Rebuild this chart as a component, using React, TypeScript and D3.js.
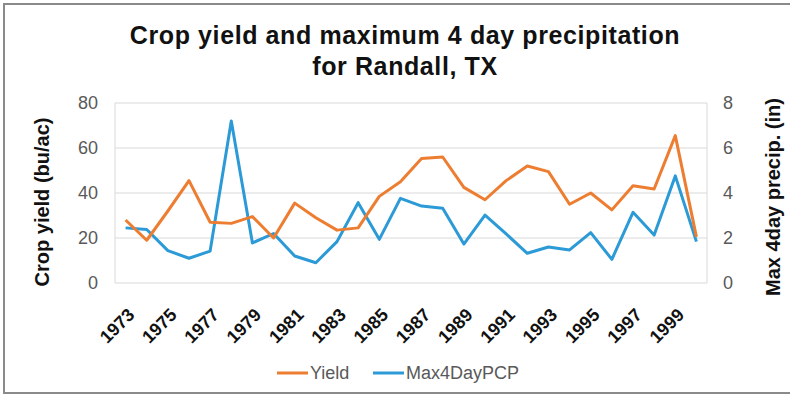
import React, { useRef, useEffect } from "react";
import * as d3 from "d3";

const years = [
  1973, 1974, 1975, 1976, 1977, 1978, 1979, 1980, 1981, 1982, 1983, 1984, 1985, 1986,
  1987, 1988, 1989, 1990, 1991, 1992, 1993, 1994, 1995, 1996, 1997, 1998, 1999, 2000,
];
const yieldValues = [
  28, 19, 32, 45.5, 27, 26.5, 29.5, 20, 35.5, 29, 23.5, 24.5, 38.5, 45,
  55.3, 56, 42.5, 37, 45.5, 52, 49.5, 35, 40, 32.5, 43.2, 41.8, 65.5, 20.5,
];
const pcpValues = [
  2.45, 2.38, 1.44, 1.1, 1.42, 7.2, 1.78, 2.2, 1.2, 0.9, 1.84, 3.57, 1.94, 3.76,
  3.42, 3.32, 1.73, 3.02, 2.18, 1.32, 1.6, 1.47, 2.24, 1.05, 3.14, 2.13, 4.76, 1.84,
];
const leftTicks = [0, 20, 40, 60, 80];
const rightTicks = [0, 2, 4, 6, 8];
const tickYears = [1973, 1975, 1977, 1979, 1981, 1983, 1985, 1987, 1989, 1991, 1993, 1995, 1997, 1999];
const seriesNames = ["Yield", "Max4DayPCP"];
const seriesColors = ["#ed7d31", "#2b9ad6"];

const W = 790;
const H = 396;
const FONT = "'Liberation Sans', Arial, sans-serif";

export default function App() {
  const svgRef = useRef<SVGSVGElement>(null);

  useEffect(() => {
    if (!svgRef.current) return;
    const svg = d3.select(svgRef.current);
    svg.selectAll("*").remove();

    const plot = { left: 115, right: 707, top: 103, bottom: 283 };

    const x = d3
      .scaleBand<number>()
      .domain(years)
      .range([plot.left, plot.right])
      .padding(0);
    const yL = d3.scaleLinear().domain([0, 80]).range([plot.bottom, plot.top]);
    const yR = d3.scaleLinear().domain([0, 8]).range([plot.bottom, plot.top]);
    const cx = (yr: number) => (x(yr) ?? 0) + x.bandwidth() / 2;

    // background + outer frame
    svg.append("rect").attr("width", W).attr("height", H).attr("fill", "#fff");
    svg
      .append("rect")
      .attr("x", 4)
      .attr("y", 4)
      .attr("width", W + 10)
      .attr("height", 389)
      .attr("fill", "none")
      .attr("stroke", "#8a8a8a")
      .attr("stroke-width", 2);

    // title
    const title = svg
      .append("text")
      .attr("text-anchor", "middle")
      .attr("font-family", FONT)
      .attr("font-weight", "bold")
      .attr("font-size", 25)
      .attr("letter-spacing", 0.6)
      .attr("fill", "#111");
    title.append("tspan").attr("x", 405).attr("y", 44).text("Crop yield and maximum 4 day precipitation");
    title.append("tspan").attr("x", 405).attr("y", 75).text("for Randall, TX");

    // gridlines
    svg
      .append("g")
      .selectAll("line")
      .data(leftTicks)
      .join("line")
      .attr("x1", plot.left)
      .attr("x2", plot.right)
      .attr("y1", (d) => yL(d))
      .attr("y2", (d) => yL(d))
      .attr("stroke", "#d9d9d9")
      .attr("stroke-width", 1);

    // plot borders (left & right)
    svg
      .append("g")
      .selectAll("line")
      .data([plot.left, plot.right])
      .join("line")
      .attr("x1", (d) => d)
      .attr("x2", (d) => d)
      .attr("y1", plot.top)
      .attr("y2", plot.bottom)
      .attr("stroke", "#d9d9d9");

    // left tick labels
    svg
      .append("g")
      .selectAll("text")
      .data(leftTicks)
      .join("text")
      .attr("x", 98)
      .attr("y", (d) => yL(d))
      .attr("dy", "0.35em")
      .attr("text-anchor", "end")
      .attr("font-family", FONT)
      .attr("font-size", 18)
      .attr("fill", "#595959")
      .text((d) => d);

    // right tick labels
    svg
      .append("g")
      .selectAll("text")
      .data(rightTicks)
      .join("text")
      .attr("x", 723)
      .attr("y", (d) => yR(d))
      .attr("dy", "0.35em")
      .attr("text-anchor", "start")
      .attr("font-family", FONT)
      .attr("font-size", 18)
      .attr("fill", "#595959")
      .text((d) => d);

    // x tick labels
    svg
      .append("g")
      .selectAll("text")
      .data(tickYears)
      .join("text")
      .attr("transform", (d) => `translate(${cx(d) + 10},${316}) rotate(-45)`)
      .attr("text-anchor", "end")
      .attr("font-family", FONT)
      .attr("font-weight", "bold")
      .attr("font-size", 18)
      .attr("fill", "#111")
      .text((d) => d);

    // axis titles
    svg
      .append("text")
      .attr("transform", `translate(49,${(plot.top + plot.bottom) / 2 + 9}) rotate(-90)`)
      .attr("text-anchor", "middle")
      .attr("font-family", FONT)
      .attr("font-weight", "bold")
      .attr("font-size", 20)
      .attr("fill", "#111")
      .text("Crop yield (bu/ac)");
    svg
      .append("text")
      .attr("transform", `translate(780,${(plot.top + plot.bottom) / 2 + 4}) rotate(-90)`)
      .attr("text-anchor", "middle")
      .attr("font-family", FONT)
      .attr("font-weight", "bold")
      .attr("font-size", 20)
      .attr("fill", "#111")
      .text("Max 4day precip. (in)");

    // lines
    const lineL = d3
      .line<number>()
      .x((_, i) => cx(years[i]))
      .y((d) => yL(d));
    const lineR = d3
      .line<number>()
      .x((_, i) => cx(years[i]))
      .y((d) => yR(d));

    svg
      .append("path")
      .datum(pcpValues)
      .attr("d", lineR)
      .attr("fill", "none")
      .attr("stroke", seriesColors[1])
      .attr("stroke-width", 3)
      .attr("stroke-linejoin", "round");
    svg
      .append("path")
      .datum(yieldValues)
      .attr("d", lineL)
      .attr("fill", "none")
      .attr("stroke", seriesColors[0])
      .attr("stroke-width", 3)
      .attr("stroke-linejoin", "round");

    // legend
    const legendX = [277, 373];
    const lg = svg
      .append("g")
      .selectAll("g")
      .data(seriesNames)
      .join("g")
      .attr("transform", (_, i) => `translate(${legendX[i]},373)`);
    lg.append("line")
      .attr("x1", 0)
      .attr("x2", 31)
      .attr("stroke", (_, i) => seriesColors[i])
      .attr("stroke-width", 3);
    lg.append("text")
      .attr("x", 33)
      .attr("dy", "0.35em")
      .attr("font-family", FONT)
      .attr("font-size", 18)
      .attr("fill", "#595959")
      .text((d) => d);
  }, []);

  return (
    <svg
      ref={svgRef}
      width={W}
      height={H}
      style={{ position: "absolute", left: 0, top: 0 }}
    ></svg>
  );
}
